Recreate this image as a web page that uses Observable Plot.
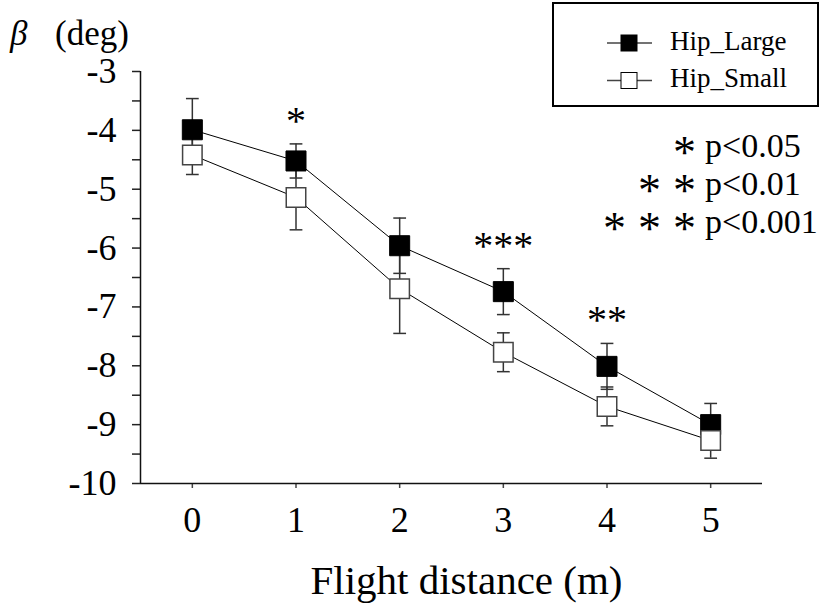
<!DOCTYPE html>
<html>
<head>
<meta charset="utf-8">
<script src="https://cdn.jsdelivr.net/npm/d3@7"></script>
<script src="https://cdn.jsdelivr.net/npm/@observablehq/plot@0.6"></script>
<style>
  body { margin: 0; background: #fff; }
  #chart svg { display: block; }
</style>
</head>
<body>
<div id="chart"></div>
<script>
// Sideslip angle β against flight distance, mean ± SE for two hip conditions
const distances = [0, 1, 2, 3, 4, 5];
const seriesNames = ["Hip_Large", "Hip_Small"];
const largeMean = [-3.99, -4.52, -5.96, -6.74, -8.01, -9.00];
const largeSE   = [0.53, 0.29, 0.47, 0.39, 0.39, 0.36];
const smallMean = [-4.42, -5.14, -6.69, -7.77, -8.69, -9.27];
const smallSE   = [0.33, 0.55, 0.76, 0.33, 0.33, 0.30];

const xTicks = [0, 1, 2, 3, 4, 5];
const yTicks = [-3, -4, -5, -6, -7, -8, -9, -10];
const yMinorTicks = [-3.5, -4.5, -5.5, -6.5, -7.5, -8.5, -9.5];

// significance marks between the two conditions
const sigDistances = [1, 3, 4];
const sigStars = ["*", "***", "**"];
const keyStarCounts = [1, 2, 3];
const keyLabels = ["p<0.05", "p<0.01", "p<0.001"];

const xLabel = "Flight distance (m)";
const yLabelSymbol = "β";
const yLabelUnit = "(deg)";

const serif = "'Liberation Serif', 'Times New Roman', serif";

const rows = [
  ...distances.map((d, i) => ({series: seriesNames[0], x: d, mean: largeMean[i], se: largeSE[i]})),
  ...distances.map((d, i) => ({series: seriesNames[1], x: d, mean: smallMean[i], se: smallSE[i]}))
];
const large = rows.filter(r => r.series === seriesNames[0]);
const small = rows.filter(r => r.series === seriesNames[1]);

const sigRows = sigDistances.map((d, i) => {
  const k = distances.indexOf(d);
  return {x: d, y: largeMean[k] + largeSE[k], label: sigStars[i]};
});

// horizontal cap for the error bars
const capSymbol = {
  draw(context, size) {
    const w = Math.sqrt(size);
    context.moveTo(-w / 2, 0);
    context.lineTo(w / 2, 0);
  }
};

const barColor = "#333";

const chart = Plot.plot({
  width: 824,
  height: 605,
  marginLeft: 140,
  marginRight: 62,
  marginTop: 71,
  marginBottom: 122,
  style: {fontFamily: serif, background: "#fff", color: "#000"},
  x: {domain: [-0.5, 5.5]},
  y: {domain: [-10, -3]},
  marks: [
    Plot.axisY({
      ticks: [...yTicks, ...yMinorTicks],
      tickFormat: d => Number.isInteger(d) ? String(d) : "",
      tickSize: 8,
      tickPadding: 16,
      fontSize: 36,
      fontFamily: serif,
      label: null,
      stroke: "#222",
      strokeWidth: 1.5
    }),
    Plot.axisX({
      ticks: xTicks,
      tickFormat: d => String(d),
      tickSize: 5,
      tickPadding: 18,
      fontSize: 36,
      fontFamily: serif,
      label: null,
      stroke: "#444",
      strokeWidth: 1.5
    }),
    Plot.ruleX([-0.5], {stroke: "#111", strokeWidth: 1.5}),
    Plot.ruleY([-10], {stroke: "#111", strokeWidth: 1.5}),
    // error bars
    Plot.ruleX(rows, {x: "x", y1: d => d.mean - d.se, y2: d => d.mean + d.se, stroke: barColor, strokeWidth: 1.5}),
    Plot.dot(rows, {x: "x", y: d => d.mean + d.se, symbol: capSymbol, r: 7.2, stroke: barColor, strokeWidth: 1.5, fill: "none"}),
    Plot.dot(rows, {x: "x", y: d => d.mean - d.se, symbol: capSymbol, r: 7.2, stroke: barColor, strokeWidth: 1.5, fill: "none"}),
    // connecting lines
    Plot.lineY(large, {x: "x", y: "mean", stroke: "#000", strokeWidth: 1}),
    Plot.lineY(small, {x: "x", y: "mean", stroke: "#000", strokeWidth: 1}),
    // markers
    Plot.dot(large, {x: "x", y: "mean", symbol: "square", r: 11.3, fill: "#000", stroke: "#000", strokeWidth: 1}),
    Plot.dot(small, {x: "x", y: "mean", symbol: "square", r: 11.0, fill: "#fff", stroke: "#444", strokeWidth: 1.5}),
    // significance stars
    Plot.text(sigRows, {x: "x", y: "y", text: "label", lineAnchor: "bottom", dy: -10, fontSize: 40, fontFamily: serif, fill: "#000"}),
    // x title
    Plot.text([xLabel], {frameAnchor: "bottom", lineAnchor: "bottom", dx: 15, dy: 110, fontSize: 41, fontFamily: serif, fill: "#000"})
  ]
});

document.getElementById("chart").appendChild(chart);

const svg = d3.select(chart);

// y title: italic beta followed by unit
const yTitle = svg.append("text")
  .attr("x", 10).attr("y", 45).attr("text-anchor", "start")
  .attr("font-family", serif).attr("font-size", 35).attr("fill", "#000");
yTitle.append("tspan").attr("font-style", "italic").text(yLabelSymbol);
yTitle.append("tspan").attr("x", 55).text(yLabelUnit);

// legend box
const legend = svg.append("g");
legend.append("rect")
  .attr("x", 553).attr("y", 3).attr("width", 265).attr("height", 103)
  .attr("fill", "#fff").attr("stroke", "#000").attr("stroke-width", 2);
const legendFill = ["#000", "#fff"];
seriesNames.forEach((name, i) => {
  const cy = 43 + i * 37.5;
  legend.append("line")
    .attr("x1", 607).attr("x2", 652).attr("y1", cy).attr("y2", cy)
    .attr("stroke", "#444").attr("stroke-width", 1.5);
  legend.append("rect")
    .attr("x", 621).attr("y", cy - 8).attr("width", 16).attr("height", 16)
    .attr("fill", legendFill[i]).attr("stroke", "#000").attr("stroke-width", 1);
  legend.append("text")
    .attr("x", 670).attr("y", cy + 6.5).attr("text-anchor", "start")
    .attr("font-family", serif).attr("font-size", 27).attr("fill", "#000")
    .text(name);
});

// significance key: thresholds left-aligned, stars stacked right-aligned before them
const keyBase = keyLabels.map((_, i) => 156.5 + i * 38.3);
const starX = [], starY = [];
keyStarCounts.forEach((n, i) => {
  for (let s = 0; s < n; s++) {
    starX.push(673 - (n - 1 - s) * 35);
    starY.push(keyBase[i] + 11);
  }
});
svg.append("text")
  .attr("text-anchor", "start")
  .attr("font-family", serif).attr("font-size", 46).attr("fill", "#000")
  .append("tspan")
  .attr("x", starX.join(" "))
  .attr("y", starY.join(" "))
  .text("*".repeat(starX.length));
const keyText = svg.append("text")
  .attr("text-anchor", "start")
  .attr("font-family", serif).attr("font-size", 34).attr("fill", "#000");
keyLabels.forEach((label, i) => {
  keyText.append("tspan")
    .attr("x", 705).attr("y", keyBase[i])
    .text(label);
});
</script>
</body>
</html>
